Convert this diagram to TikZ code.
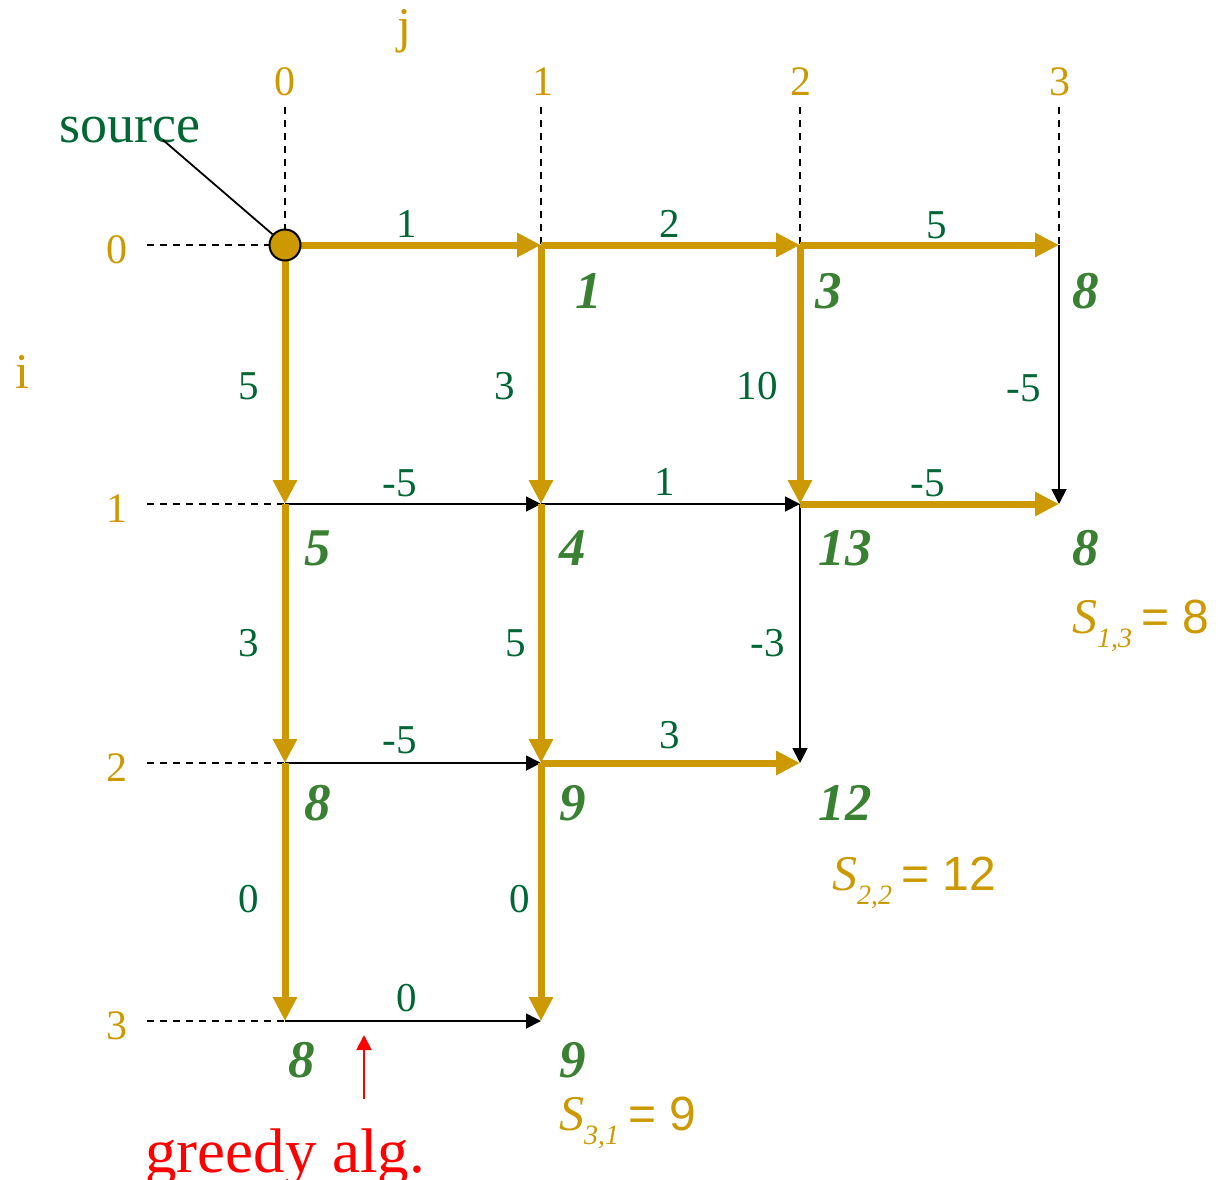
\documentclass[tikz,border=0pt]{standalone}
\usepackage{fontspec}
\setmainfont{Liberation Serif}
\newfontfamily\sansf{Liberation Sans}
\usetikzlibrary{arrows.meta}
\definecolor{gold}{RGB}{204,153,0}
\definecolor{wgreen}{RGB}{0,102,51}
\definecolor{vgreen}{RGB}{58,128,50}
\begin{document}
\begin{tikzpicture}[x=1pt,y=-1pt,
  gp/.style={gold, line width=7pt, -{Triangle[length=24pt,width=23pt]}},
  bp/.style={black, line width=1.8pt, -{Triangle[length=15pt,width=15pt]}},
  guide/.style={black, line width=1.3pt, dash pattern=on 7pt off 6pt},
  wt/.style={font=\fontsize{41}{41}\selectfont, text=wgreen, anchor=base, inner sep=0pt},
  val/.style={font=\fontsize{53}{53}\selectfont\bfseries\itshape, text=vgreen, anchor=base, inner sep=0pt},
  ax/.style={font=\fontsize{42}{42}\selectfont, text=gold, anchor=base, inner sep=0pt},
  axname/.style={font=\fontsize{50}{50}\selectfont, text=gold, anchor=base, inner sep=0pt},
  slabel/.style={text=gold, anchor=base west, inner sep=0pt}]
\useasboundingbox (0,0) rectangle (1218,1179);

% grid points
\coordinate (n00) at (285,245);
\coordinate (n01) at (541,245);
\coordinate (n02) at (800,245);
\coordinate (n03) at (1059,245);
\coordinate (n10) at (285,504);
\coordinate (n11) at (541,504);
\coordinate (n12) at (800,504);
\coordinate (n13) at (1059,504);
\coordinate (n20) at (285,763);
\coordinate (n21) at (541,763);
\coordinate (n22) at (800,763);
\coordinate (n30) at (285,1021);
\coordinate (n31) at (541,1021);

% guide ends
\coordinate (t0) at (285,107);
\coordinate (t1) at (541,107);
\coordinate (t2) at (800,107);
\coordinate (t3) at (1059,107);
\coordinate (l0) at (147,245);
\coordinate (l1) at (147,504);
\coordinate (l2) at (147,763);
\coordinate (l3) at (147,1021);

% axes
\node[axname] (jlab) at (404,42) {j};
\node[axname] (ilab) at (22,388) {i};
\node[ax] (c0) at (285,95) {0};
\node[ax] (c1) at (543,95) {1};
\node[ax] (c2) at (801,95) {2};
\node[ax] (c3) at (1060,95) {3};
\node[ax] (r0) at (117,263) {0};
\node[ax] (r1) at (117,522) {1};
\node[ax] (r2) at (117,781) {2};
\node[ax] (r3) at (117,1039) {3};

\draw[guide] (t0) -- (n00);
\draw[guide] (t1) -- (n01);
\draw[guide] (t2) -- (n02);
\draw[guide] (t3) -- (n03);
\draw[guide] (l0) -- (n00);
\draw[guide] (l1) -- (n10);
\draw[guide] (l2) -- (n20);
\draw[guide] (l3) -- (n30);

% black edges
\draw[bp] (n10) -- (n11);
\draw[bp] (n11) -- (n12);
\draw[bp] (n12) -- (n22);
\draw[bp] (n03) -- (n13);
\draw[bp] (n20) -- (n21);
\draw[bp] (n30) -- (n31);

% gold edges
\draw[gp] (n00) -- (n01);
\draw[gp] (n01) -- (n02);
\draw[gp] (n02) -- (n03);
\draw[gp] (n12) -- (n13);
\draw[gp] (n21) -- (n22);
\draw[gp] (n00) -- (n10);
\draw[gp] (n10) -- (n20);
\draw[gp] (n20) -- (n30);
\draw[gp] (n01) -- (n11);
\draw[gp] (n11) -- (n21);
\draw[gp] (n21) -- (n31);
\draw[gp] (n02) -- (n12);

% source
\node[circle, fill=gold, draw=black, line width=2pt, minimum size=31pt, inner sep=0pt] (src) at (n00) {};
\node[font=\fontsize{54}{54}\selectfont, text=wgreen, anchor=base, inner sep=0pt] (source) at (130,142) {source};
\coordinate (srcpt) at (163,140);
\draw[line width=1.8pt] (srcpt) -- (src);

% edge weights, horizontal
\node[wt] (w0a) at (407,237) {1};
\node[wt] (w0b) at (670,237) {2};
\node[wt] (w0c) at (937,238) {5};
\node[wt] (w1a) at (400,496) {-5};
\node[wt] (w1b) at (665,495) {1};
\node[wt] (w1c) at (928,496) {-5};
\node[wt] (w2a) at (400,753) {-5};
\node[wt] (w2b) at (670,748) {3};
\node[wt] (w3a) at (407,1011) {0};
% edge weights, vertical
\node[wt] (v0a) at (249,399) {5};
\node[wt] (v0b) at (505,399) {3};
\node[wt] (v0c) at (757,399) {10};
\node[wt] (v0d) at (1024,401) {-5};
\node[wt] (v1a) at (249,656) {3};
\node[wt] (v1b) at (516,656) {5};
\node[wt] (v1c) at (768,656) {-3};
\node[wt] (v2a) at (249,912) {0};
\node[wt] (v2b) at (520,912) {0};

% node values
\node[val] (x01) at (589,308) {1};
\node[val] (x02) at (829,308) {3};
\node[val] (x03) at (1086,308) {8};
\node[val] (x10) at (318,565) {5};
\node[val] (x11) at (573,565) {4};
\node[val] (x12) at (845,565) {13};
\node[val] (x13) at (1086,565) {8};
\node[val] (x20) at (318,820) {8};
\node[val] (x21) at (573,820) {9};
\node[val] (x22) at (845,820) {12};
\node[val] (x30) at (302,1077) {8};
\node[val] (x31) at (573,1077) {9};

% S labels
\node[slabel] (s13) at (1072,633) {\fontsize{50}{50}\selectfont\itshape S\raisebox{-14pt}{\fontsize{28}{28}\selectfont 1,3}\upshape\sansf\fontsize{48}{48}\selectfont\hspace{9pt}= 8};
\node[slabel] (s22) at (832,890) {\fontsize{50}{50}\selectfont\itshape S\raisebox{-14pt}{\fontsize{28}{28}\selectfont 2,2}\upshape\sansf\fontsize{48}{48}\selectfont\hspace{9pt}= 12};
\node[slabel] (s31) at (559,1130) {\fontsize{50}{50}\selectfont\itshape S\raisebox{-14pt}{\fontsize{28}{28}\selectfont 3,1}\upshape\sansf\fontsize{48}{48}\selectfont\hspace{9pt}= 9};

% greedy
\node[font=\fontsize{63}{63}\selectfont, text=red, anchor=base west, inner sep=0pt] (greedy) at (145,1172) {greedy alg.};
\coordinate (g0) at (364,1099);
\coordinate (g1) at (364,1035);
\draw[red, line width=2pt, -{Triangle[length=15pt,width=15pt]}] (g0) -- (g1);
\end{tikzpicture}
\end{document}
